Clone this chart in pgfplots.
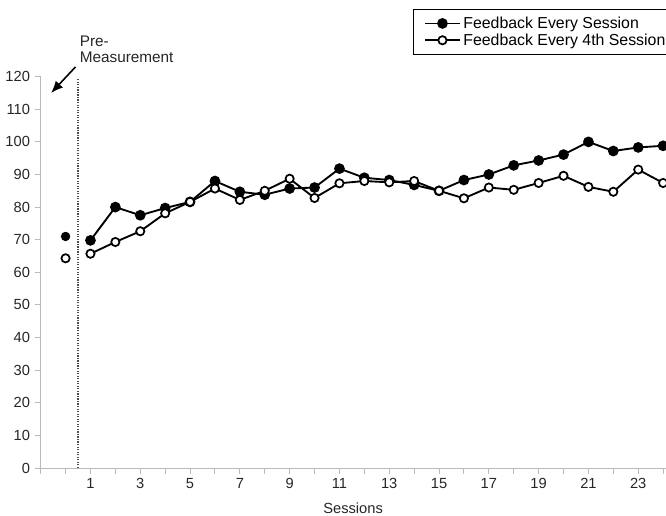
\documentclass[border=0pt]{standalone}
\usepackage{fontspec}
\setmainfont{Liberation Sans}
\usepackage{pgfplots}
\usepackage{pgfplotstable}
\pgfplotsset{compat=1.18}
\usetikzlibrary{arrows.meta}

\pgfplotstableread{
x f o
1 69.8 65.7
2 80.0 69.3
3 77.5 72.6
4 79.7 78.1
5 81.6 81.6
6 88.0 85.7
7 84.7 82.2
8 83.8 85.0
9 85.7 88.7
10 86.0 82.8
11 91.8 87.3
12 89.0 88.0
13 88.3 87.6
14 86.8 88.0
15 85.0 85.0
16 88.3 82.7
17 90.0 86.0
18 92.8 85.3
19 94.3 87.4
20 96.1 89.6
21 100.0 86.2
22 97.2 84.7
23 98.3 91.5
24 98.8 87.4
}\sessiondata

\pgfplotstableread{
x f o
0 71.0 64.3
}\predata

\begin{document}
\begin{tikzpicture}
\useasboundingbox (0,0) rectangle (499.5pt,387pt);
\clip (0,0) rectangle (499.5pt,387pt);
\begin{axis}[
  at={(30.5pt,36pt)}, anchor=south west,
  scale only axis, width=468.7pt, height=293.5pt,
  xmin=-1, xmax=24.1, ymin=0, ymax=120,
  clip=false,
  axis x line=bottom, axis y line=left,
  axis line style={-, draw=gray!55, line width=0.7pt},
  tick style={draw=gray!55, line width=0.7pt},
  tick align=outside,
  major tick length=4.5pt, minor tick length=4.5pt,
  xtick={1,3,...,23},
  minor xtick={-1,0,2,4,...,24},
  ytick={0,10,...,120},
  /pgf/number format/assume math mode=true,
  ticklabel style={font=\fontsize{11}{13}\selectfont, text=black!85},
  xlabel={Sessions},
  xlabel style={font=\fontsize{11}{13}\selectfont, text=black!85, yshift=-3.5pt},
  legend style={at={(0.596,1.173)}, anchor=north west, draw=black, line width=0.6pt,
    fill=white, font=\fontsize{11.9}{14}\selectfont, inner xsep=8pt, inner ysep=3.5pt,
    row sep=-1.5pt, cells={anchor=west}},
  legend cell align=left,
  legend image code/.code={\draw[mark repeat=2,mark phase=2,#1] plot coordinates {(0pt,0pt) (13pt,0pt) (26pt,0pt)};},
]
\draw[densely dotted, draw=black!70, line width=0.9pt] (axis cs:0.5,0) -- (axis cs:0.5,119.6);

\addplot[black, line width=1.4pt, mark=*, mark size=3.3pt, mark options={fill=black, solid}]
  table[x=x, y=f] {\sessiondata};
\addlegendentry{Feedback Every Session}
\addplot[black, line width=1.4pt, mark=*, mark size=3.1pt, mark options={fill=white, line width=1.3pt, solid}]
  table[x=x, y=o] {\sessiondata};
\addlegendentry{Feedback Every 4th Session}

\addplot[only marks, black, mark=*, mark size=3.3pt, mark options={fill=black}, forget plot]
  table[x=x, y=f] {\predata};
\addplot[only marks, black, mark=*, mark size=3.1pt, mark options={fill=white, line width=1.3pt}, forget plot]
  table[x=x, y=o] {\predata};

\node[anchor=north west, align=left, inner sep=0pt, font=\fontsize{11.5}{12}\selectfont, text=black!85]
  at (axis cs:0.56,132.6) {Pre-\\Measurement};
\draw[-{Latex[length=9pt,width=7.5pt]}, line width=1.2pt] (axis cs:0.4,123.0) -- (axis cs:-0.58,115.0);
\end{axis}
\end{tikzpicture}
\end{document}
